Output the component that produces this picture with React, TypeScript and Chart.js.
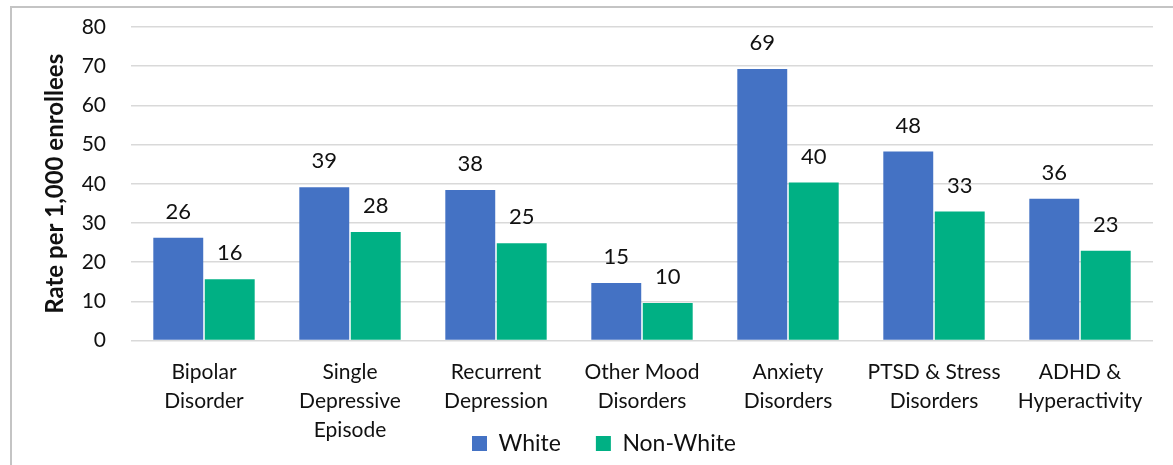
import React, { useEffect, useRef } from "react";
import { Chart, registerables } from "chart.js";

Chart.register(...registerables);

const categories: string[][] = [
  ["Bipolar", "Disorder"],
  ["Single", "Depressive", "Episode"],
  ["Recurrent", "Depression"],
  ["Other Mood", "Disorders"],
  ["Anxiety", "Disorders"],
  ["PTSD & Stress", "Disorders"],
  ["ADHD &", "Hyperactivity"],
];
const whiteValues = [26.2, 39.1, 38.4, 14.7, 69.3, 48.2, 36.2];
const nonWhiteValues = [15.6, 27.7, 24.8, 9.6, 40.3, 32.9, 22.9];
const seriesNames = ["White", "Non-White"];
const yTitle = "Rate per 1,000 enrollees";

const FONT = "Lato, 'Open Sans', sans-serif";

const dataLabelPlugin = {
  id: "dataLabels",
  afterDatasetsDraw(chart: any) {
    const ctx = chart.ctx;
    ctx.save();
    ctx.font = `22px ${FONT}`;
    ctx.fillStyle = "#111";
    ctx.textAlign = "center";
    ctx.textBaseline = "middle";
    chart.data.datasets.forEach((ds: any, di: number) => {
      const meta = chart.getDatasetMeta(di);
      meta.data.forEach((bar: any, i: number) => {
        const v = ds.data[i];
        ctx.fillText(String(Math.round(v)), bar.x, bar.y - 26);
      });
    });
    ctx.restore();
  },
};

// let the multi-line category labels overflow into the legend band
const labelRoomPlugin = {
  id: "labelRoom",
  afterLayout(chart: any) {
    const x = chart.scales.x;
    if (x) x.bottom = chart.height;
  },
};

export default function App() {
  const ref = useRef<HTMLCanvasElement>(null);
  useEffect(() => {
    if (!ref.current) return;
    const chart = new Chart(ref.current, {
      type: "bar",
      data: {
        labels: categories,
        datasets: [
          {
            label: seriesNames[0],
            data: whiteValues,
            backgroundColor: "#4472C4",
            categoryPercentage: 0.705,
            barPercentage: 0.97,
          },
          {
            label: seriesNames[1],
            data: nonWhiteValues,
            backgroundColor: "#00B084",
            categoryPercentage: 0.705,
            barPercentage: 0.97,
          },
        ],
      },
      options: {
        animation: false,
        responsive: false,
        layout: { padding: { left: 35, right: 0, top: 27, bottom: 0 } },
        plugins: {
          tooltip: { enabled: false },
          legend: {
            position: "bottom",
            labels: {
              boxWidth: 15,
              boxHeight: 15,
              padding: 35,
              color: "#111",
              font: { family: FONT, size: 23 },
            },
          },
        },
        scales: {
          x: {
            grid: { display: false },
            border: { display: false },
            ticks: {
              color: "#111",
              padding: 9,
              maxRotation: 0,
              autoSkip: false,
              font: { family: FONT, size: 21, lineHeight: "29px" },
            },
            afterFit: (axis: any) => {
              axis.height = 56.5;
            },
          },
          y: {
            min: 0,
            max: 80,
            ticks: {
              stepSize: 10,
              padding: 14,
              color: "#111",
              font: { family: FONT, size: 21 },
            },
            grid: {
              color: "#d9d9d9",
              lineWidth: 1.5,
              drawTicks: true,
              tickLength: 11,
              tickColor: "rgba(0,0,0,0)",
            },
            border: { display: false },
            title: {
              display: true,
              text: yTitle,
              color: "#111",
              padding: { top: 6, bottom: 0 },
              font: { family: FONT, size: 24, weight: "bold" },
            },
            afterFit: (axis: any) => {
              axis.width = 96;
            },
          },
          yRight: {
            position: "right",
            display: true,
            ticks: { display: false },
            grid: { display: false },
            border: { display: false },
            afterFit: (axis: any) => {
              axis.width = 20;
            },
          },
        },
      } as any,
      plugins: [dataLabelPlugin, labelRoomPlugin],
    });
    return () => chart.destroy();
  }, []);

  return (
    <div
      style={{
        position: "fixed",
        left: 0,
        top: 0,
        width: 1173,
        height: 465,
        background: "#fff",
        overflow: "hidden",
      }}
    >
      <div
        style={{
          position: "absolute",
          left: 10,
          top: 6,
          width: 1200,
          height: 500,
          borderLeft: "2px solid #c4c4c4",
          borderTop: "2px solid #c4c4c4",
        }}
      />
      <canvas
        ref={ref}
        width={1173}
        height={465}
        style={{ position: "absolute", left: 0, top: 0 }}
      />
    </div>
  );
}
